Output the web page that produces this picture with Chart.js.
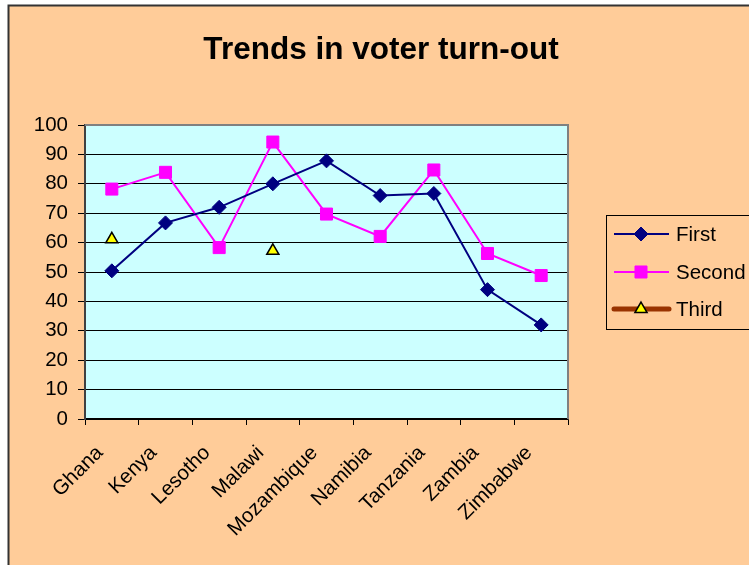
<!DOCTYPE html>
<html>
<head>
<meta charset="utf-8">
<title>Trends in voter turn-out</title>
<script src="https://cdn.jsdelivr.net/npm/chart.js@4/dist/chart.umd.min.js"></script>
<style>
    html, body { margin: 0; padding: 0; background: #ffffff; overflow: hidden; }
    canvas { display: block; }
</style>
</head>
<body>
<canvas id="turnout-chart" width="749" height="565"></canvas>
<script>
const countries = ['Ghana', 'Kenya', 'Lesotho', 'Malawi', 'Mozambique', 'Namibia', 'Tanzania', 'Zambia', 'Zimbabwe'];
const firstTurnout = [50.4, 66.7, 72, 80, 87.8, 76, 76.7, 44, 32];
const secondTurnout = [78.2, 83.9, 58.3, 94.2, 69.7, 62.1, 84.7, 56.3, 48.8];
const thirdTurnout = [61.1, null, null, 57.2, null, null, null, null, null];
const seriesNames = ['First', 'Second', 'Third'];
const yTicks = [0, 10, 20, 30, 40, 50, 60, 70, 80, 90, 100];

const chartTitle = 'Trends in voter turn-out';
const fontFamily = 'Arial, "Liberation Sans", sans-serif';
const peach = '#FFCC99';

// outer frame, title, plot background and the right/top plot border
const framePlugin = {
    id: 'frame',
    beforeDraw(chart) {
        const ctx = chart.ctx;
        const area = chart.chartArea;
        ctx.save();
        ctx.fillStyle = '#ffffff';
        ctx.fillRect(0, 0, chart.width, chart.height);
        ctx.fillStyle = peach;
        ctx.fillRect(8, 5, chart.width - 8, chart.height - 5);
        ctx.strokeStyle = '#333333';
        ctx.lineWidth = 2;
        ctx.beginPath();
        ctx.moveTo(8.5, chart.height);
        ctx.lineTo(8.5, 5.5);
        ctx.lineTo(chart.width, 5.5);
        ctx.stroke();

        ctx.fillStyle = '#CCFFFF';
        ctx.fillRect(area.left, area.top, area.right - area.left, area.bottom - area.top);

        ctx.fillStyle = '#000000';
        ctx.font = 'bold 31.5px ' + fontFamily;
        ctx.textAlign = 'center';
        ctx.textBaseline = 'alphabetic';
        ctx.fillText(chartTitle, 381, 59);
        ctx.restore();
    },
    beforeDatasetsDraw(chart) {
        const ctx = chart.ctx;
        const area = chart.chartArea;
        ctx.save();
        ctx.strokeStyle = '#808080';
        ctx.lineWidth = 2;
        ctx.beginPath();
        ctx.moveTo(area.left, area.top);
        ctx.lineTo(area.right, area.top);
        ctx.lineTo(area.right, area.bottom);
        ctx.stroke();
        ctx.restore();
    }
};

// legend box on the right, drawn from the dataset styles
const legendPlugin = {
    id: 'sideLegend',
    afterDraw(chart) {
        const ctx = chart.ctx;
        const left = 606, top = 215, bottom = 329;
        ctx.save();
        ctx.fillStyle = peach;
        ctx.fillRect(left, top, chart.width - left, bottom - top);
        ctx.strokeStyle = '#000000';
        ctx.lineWidth = 1;
        ctx.strokeRect(left + 0.5, top + 0.5, chart.width + 10 - left, bottom - top);

        const rows = [234, 272, 309];
        chart.data.datasets.forEach((ds, i) => {
            const y = rows[i];
            ctx.strokeStyle = ds.borderColor;
            ctx.lineWidth = ds.legendLineWidth || ds.borderWidth;
            ctx.lineCap = ds.legendLineWidth ? 'round' : 'butt';
            ctx.beginPath();
            ctx.moveTo(614, y);
            ctx.lineTo(669, y);
            ctx.stroke();

            ctx.fillStyle = ds.pointBackgroundColor;
            ctx.strokeStyle = ds.pointBorderColor;
            ctx.lineWidth = ds.pointBorderWidth;
            Chart.helpers.drawPoint(ctx, {
                pointStyle: ds.pointStyle,
                radius: ds.pointRadius,
                borderWidth: ds.pointBorderWidth,
                rotation: 0
            }, 641, y);

            ctx.fillStyle = '#000000';
            ctx.font = '20.5px ' + fontFamily;
            ctx.textAlign = 'left';
            ctx.textBaseline = 'middle';
            ctx.fillText(ds.label, 676, y + 1);
        });
        ctx.restore();
    }
};

new Chart(document.getElementById('turnout-chart'), {
    type: 'line',
    data: {
        labels: countries,
        datasets: [{
            label: seriesNames[0],
            data: firstTurnout,
            borderColor: '#000080',
            borderWidth: 2,
            pointStyle: 'rectRot',
            pointRadius: 7,
            pointBackgroundColor: '#000080',
            pointBorderColor: '#000080',
            pointBorderWidth: 1,
            tension: 0
        }, {
            label: seriesNames[1],
            data: secondTurnout,
            borderColor: '#FF00FF',
            borderWidth: 2,
            pointStyle: 'rect',
            pointRadius: 8.5,
            pointBackgroundColor: '#FF00FF',
            pointBorderColor: '#FF00FF',
            pointBorderWidth: 1,
            tension: 0
        }, {
            label: seriesNames[2],
            data: thirdTurnout,
            borderColor: '#993300',
            borderWidth: 4,
            legendLineWidth: 5,
            pointStyle: 'triangle',
            pointRadius: 7,
            pointBackgroundColor: '#FFFF00',
            pointBorderColor: '#000000',
            pointBorderWidth: 1.5,
            spanGaps: false,
            tension: 0
        }]
    },
    options: {
        responsive: false,
        animation: false,
        devicePixelRatio: 1,
        layout: {
            padding: { left: 9, top: 125, right: 181, bottom: 0 }
        },
        plugins: {
            legend: { display: false },
            title: { display: false },
            tooltip: { enabled: false }
        },
        scales: {
            x: {
                offset: true,
                afterFit: (scale) => { scale.height = 146; },
                grid: {
                    offset: true,
                    drawOnChartArea: false,
                    drawTicks: true,
                    tickLength: 6,
                    tickColor: '#000000'
                },
                border: { color: '#000000', width: 1.5 },
                ticks: {
                    color: '#000000',
                    font: { family: fontFamily, size: 20.5 },
                    minRotation: 45,
                    maxRotation: 45,
                    autoSkip: false,
                    padding: 16,
                    labelOffset: -12
                }
            },
            y: {
                min: 0,
                max: 100,
                afterFit: (scale) => { scale.width = 76; },
                afterBuildTicks: (scale) => { scale.ticks = yTicks.map(v => ({ value: v })); },
                grid: {
                    color: (c) => c.tick && c.tick.value === 100 ? 'rgba(0,0,0,0)' : '#000000',
                    lineWidth: 1,
                    drawTicks: true,
                    tickLength: 7,
                    tickColor: '#000000'
                },
                border: { color: '#404040', width: 2 },
                ticks: {
                    color: '#000000',
                    font: { family: fontFamily, size: 20.5 },
                    padding: 10
                }
            }
        }
    },
    plugins: [framePlugin, legendPlugin]
});
</script>
</body>
</html>
